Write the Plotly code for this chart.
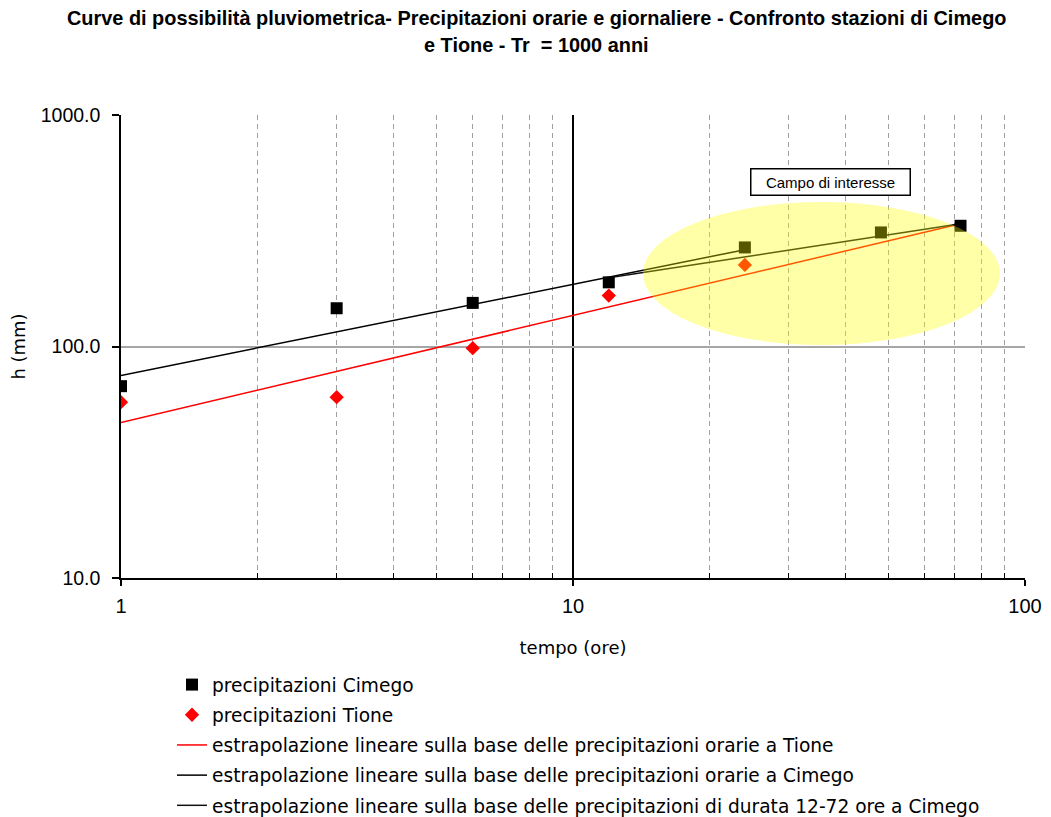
import plotly.graph_objects as go

# ---- data ----
durations = [1, 3, 6, 12, 24, 48, 72]            # tempo (ore)
cimego_h = [67.4, 146.3, 154.3, 189.3, 267.9, 311.0, 332.3]
tione_t = [1, 3, 6, 12, 24]
tione_h = [57.5, 60.4, 98.3, 165.9, 225.0]

# extrapolation lines (end points, straight in log-log)
tione_fit_t = [1, 72]
tione_fit_h = [47.0, 339.0]
cimego_hourly_t = [1, 24]
cimego_hourly_h = [75.0, 262.0]
cimego_daily_t = [12, 72]
cimego_daily_h = [198.0, 339.0]

x_tickvals = [1, 10, 100]
x_ticktext = ["1", "10", "100"]
x_minor = [2, 3, 4, 5, 6, 7, 8, 9, 20, 30, 40, 50, 60, 70, 80, 90]
y_tickvals = [10, 100, 1000]
y_ticktext = ["10.0", "100.0", "1000.0"]

names = [
    "precipitazioni Cimego",
    "precipitazioni Tione",
    "estrapolazione lineare sulla base delle precipitazioni orarie a Tione",
    "estrapolazione lineare sulla base delle precipitazioni orarie a Cimego",
    "estrapolazione lineare sulla base delle precipitazioni di durata 12-72 ore a Cimego",
]

FONT = "Liberation Sans, Arial, sans-serif"
LEGFONT = "DejaVu Sans, Verdana, sans-serif"

fig = go.Figure()
fig.add_trace(go.Scatter(x=tione_fit_t, y=tione_fit_h, mode="lines", name=names[2],
                         line=dict(color="#FF0000", width=1.5), legendrank=3, legendgroup="c"))
fig.add_trace(go.Scatter(x=cimego_hourly_t, y=cimego_hourly_h, mode="lines", name=names[3],
                         line=dict(color="#000000", width=1.5), legendrank=4, legendgroup="d"))
fig.add_trace(go.Scatter(x=cimego_daily_t, y=cimego_daily_h, mode="lines", name=names[4],
                         line=dict(color="#111111", width=1.5), legendrank=5, legendgroup="e"))
fig.add_trace(go.Scatter(x=durations, y=cimego_h, mode="markers", name=names[0],
                         marker=dict(symbol="square", size=12, color="#000000"),
                         legendrank=1, legendgroup="a"))
fig.add_trace(go.Scatter(x=tione_t, y=tione_h, mode="markers", name=names[1],
                         marker=dict(symbol="diamond", size=11, color="#FF0000"),
                         legendrank=2, legendgroup="b"))

OFF = 8  # page body margin
W, H = 1051, 817
# plot area in page pixels
PL, PR, PT, PB = 121, 1025, 115, 578
L, R, T, B = PL - OFF, PR - OFF, PT - OFF, PB - OFF

def px(xp):
    return (xp - PL) / (PR - PL)

def py(yp):
    return (PB - yp) / (PB - PT)

# "Campo di interesse" ellipse (semi-transparent, drawn above)
fig.add_shape(type="circle", xref="paper", yref="paper",
              x0=px(643), x1=px(1000), y0=py(345), y1=py(202),
              fillcolor="rgba(255,255,0,0.34)", line=dict(width=0), layer="above")

fig.add_annotation(xref="paper", yref="paper", x=px(830.7), y=py(181.7),
                   xanchor="center", yanchor="middle",
                   text="Campo di interesse", showarrow=False,
                   font=dict(family=FONT, size=15, color="#000"),
                   bgcolor="#FFFFFF", bordercolor="#000000", borderwidth=1.5,
                   borderpad=2, width=154, height=21)

# Title (two lines)
TFONT = "Liberation Sans, Arial, sans-serif"
fig.add_annotation(xref="paper", yref="paper", x=px(536), y=py(18),
                   xanchor="center", yanchor="middle",
                   text="Curve di possibilità pluviometrica- Precipitazioni orarie e giornaliere - Confronto stazioni di Cimego",
                   showarrow=False, font=dict(family=TFONT, size=19.9, color="#000", weight="bold"))
fig.add_annotation(xref="paper", yref="paper", x=px(536), y=py(45),
                   xanchor="center", yanchor="middle",
                   text="e Tione - Tr  = 1000 anni",
                   showarrow=False, font=dict(family=TFONT, size=19.9, color="#000", weight="bold"))

fig.update_layout(
    width=W, height=H,
    margin=dict(l=L, r=W - R, t=T, b=H - B, pad=0, autoexpand=False),
    paper_bgcolor="white", plot_bgcolor="white",
    font=dict(family=FONT, size=18, color="#000"),
    showlegend=True,
    legend=dict(x=px(172), y=py(666), xanchor="left", yanchor="top",
                traceorder="grouped", tracegroupgap=3,
                font=dict(family=LEGFONT, size=18.6, color="#000"),
                bgcolor="rgba(0,0,0,0)"),
)

fig.update_xaxes(type="log", range=[0, 2], automargin=False,
                 tickmode="array", tickvals=x_tickvals, ticktext=x_ticktext,
                 tickfont=dict(size=20), ticks="outside", ticklen=6, tickwidth=1.5, tickcolor="#000",
                 ticklabelstandoff=3,
                 showline=True, linecolor="#000", linewidth=1.5,
                 showgrid=True, gridcolor="#000", gridwidth=1.5,
                 minor=dict(tickmode="array", tickvals=x_minor, ticks="inside", ticklen=5,
                            tickcolor="#000", tickwidth=1, showgrid=True, gridcolor="#A0A0A0",
                            gridwidth=1, griddash="5px,4px"),
                 title=dict(text="tempo (ore)", font=dict(family=LEGFONT, size=18), standoff=26))
fig.update_yaxes(type="log", range=[1, 3], automargin=False,
                 tickmode="array", tickvals=y_tickvals, ticktext=y_ticktext,
                 tickfont=dict(size=19.5), ticks="outside", ticklen=7, tickwidth=1.5, tickcolor="#000",
                 ticklabelstandoff=8,
                 showline=True, linecolor="#000", linewidth=1.5,
                 showgrid=True, gridcolor="#A6A6A6", gridwidth=1.5,
                 title=dict(text="h (mm)", font=dict(family=LEGFONT, size=18), standoff=14))

fig.write_html("out.html")
